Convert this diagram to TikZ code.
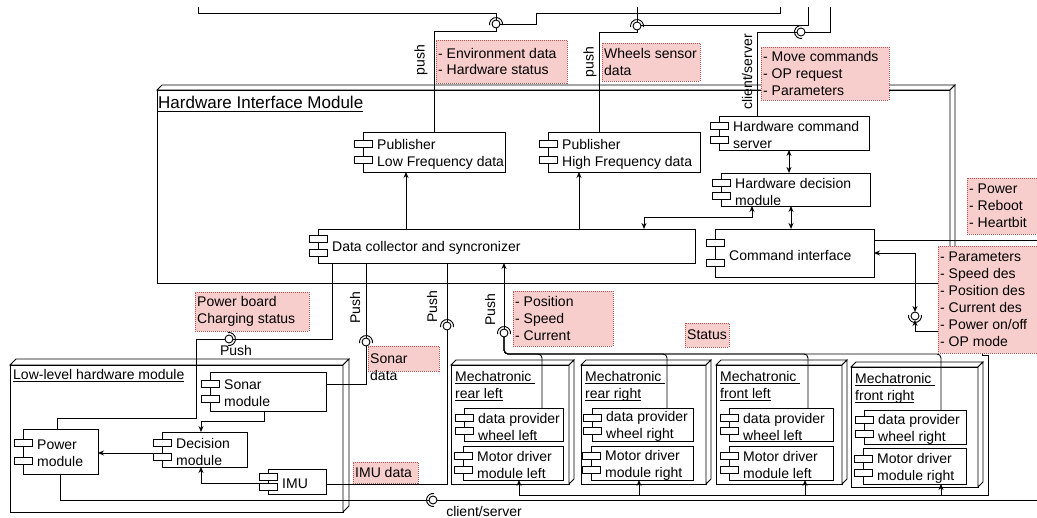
\documentclass[tikz,border=0pt]{standalone}
\usepackage{fontspec}
\setmainfont{Liberation Sans}
\usetikzlibrary{arrows.meta}
\definecolor{notefill}{HTML}{F8CECC}
\definecolor{noteline}{HTML}{B85450}
\tikzset{
  ln/.style={line width=0.9pt, draw=black},
  body/.style={draw, fill=white, line width=0.9pt, inner sep=0pt, outer sep=0pt},
  jet/.style={draw, fill=white, line width=0.9pt},
  lbl/.style={font=\fontsize{14}{17}\selectfont, inner sep=0pt, align=left},
  note/.style={draw=noteline, fill=notefill, dash pattern=on 1pt off 1pt, line width=0.6pt, inner sep=0pt, outer sep=0pt},
}
% underline drawn at a fixed distance below the baseline
\newcommand\uline[1]{\leavevmode\setbox0=\hbox{#1}\rlap{\copy0}\rule[-0.2em]{\wd0}{0.07em}}
% small connector tabs of a UML component
\newcommand\jetty[2]{\draw[jet] ({(#1)-9},{(#2)-3.5}) rectangle ({(#1)+9},{(#2)+3.5});}
% component: name, x1, y1, x2, y2, text
\newcommand\comp[6]{%
  \node[body, minimum width={(#4)-(#2)}, minimum height={(#5)-(#3)}] (#1) at ({((#2)+(#4))/2},{((#3)+(#5))/2}) {};
  \node[lbl, anchor=west] (#1-t) at ({(#2)+14},{((#3)+(#5))/2+2}) {#6};
  \jetty{#2}{(#3)+0.3*((#5)-(#3))}
  \jetty{#2}{(#3)+0.7*((#5)-(#3))}
}
% note: name, x1, y1, x2, y2, text
\newcommand\note[6]{%
  \node[note, minimum width={(#4)-(#2)}, minimum height={(#5)-(#3)}] (#1) at ({((#2)+(#4))/2},{((#3)+(#5))/2}) {};
  \node[lbl, anchor=west] (#1-t) at ({(#2)+2},{((#3)+(#5))/2}) {#6};
}
% 3D deployment node: x1, y1, x2, y2 of the front face, depth
\newcommand\boxnode[5]{%
  \draw[ln, fill=white] (#1,#2) rectangle (#3,#4);
  \draw[ln, fill=white] (#1,#2) -- ({(#1)+(#5)},{(#2)-(#5)}) -- ({(#3)+(#5)},{(#2)-(#5)}) -- (#3,#2) -- cycle;
  \draw[ln, fill=white] (#3,#2) -- ({(#3)+(#5)},{(#2)-(#5)}) -- ({(#3)+(#5)},{(#4)-(#5)}) -- (#3,#4) -- cycle;
}
% ball and socket: name, x, y, direction the socket faces
\newcommand\sock[4]{%
  \draw[ln] ([shift={(#4-100:6.5pt)}]#2,#3) arc[start angle=#4-100, end angle=#4+100, radius=6.5pt];
  \draw[ln, fill=white] (#2,#3) circle[radius=4pt];
}
\begin{document}
\begin{tikzpicture}[x=1pt, y=-1pt, >={Stealth[length=6pt,width=5pt]}]
\useasboundingbox (0,0) rectangle (1037,518);
\clip (0,0) rectangle (1037,518);

% ---------- containers ----------
\boxnode{157}{90}{950}{283}{5}
\boxnode{10}{365}{343}{512}{6}
\boxnode{451}{365}{569}{484}{5}
\boxnode{581}{365}{706}{484}{5}
\boxnode{716}{365}{842}{484}{5}
\boxnode{851}{367}{978}{487}{5}

\node[lbl, anchor=base west, font=\fontsize{17}{20}\selectfont] (himT) at (158,109) {\uline{Hardware Interface Module}};
\node[lbl, anchor=base west] (llT) at (13,379.5) {\uline{Low-level hardware module}};
\node[lbl, anchor=north west] (m1T) at (455,371) {\uline{Mechatronic\ }\\\uline{rear left}};
\node[lbl, anchor=north west] (m2T) at (585,371) {\uline{Mechatronic\ }\\\uline{rear right}};
\node[lbl, anchor=north west] (m3T) at (720,371) {\uline{Mechatronic\ }\\\uline{front left}};
\node[lbl, anchor=north west] (m4T) at (855,373) {\uline{Mechatronic\ }\\\uline{front right}};

% ---------- components ----------
\comp{pubLow}{363}{132}{505}{172}{Publisher\\Low Frequency data}
\comp{pubHigh}{548}{132}{700}{172}{Publisher\\High Frequency data}
\comp{hwCmd}{719}{116}{869}{150}{Hardware command\\server}
\comp{hwDec}{721}{173}{870}{206}{Hardware decision\\module}
\comp{cmdIf}{715}{229}{874}{277}{Command interface}
\comp{dataCol}{318}{229}{695}{263}{Data collector and syncronizer}

\comp{sonar}{210}{372}{326}{411}{Sonar\\module}
\comp{dec}{162}{432}{247}{467}{Decision\\module}
\comp{power}{23}{429}{98}{474}{Power\\module}
\comp{imu}{268}{469}{326}{494}{IMU}

\comp{dp1}{464}{408}{563}{441}{data provider\\wheel left}
\comp{md1}{463}{446}{563}{480}{Motor driver\\module left}
\comp{dp2}{592}{408}{693}{441}{data provider\\wheel right}
\comp{md2}{591}{446}{693}{480}{Motor driver\\module right}
\comp{dp3}{729}{408}{833}{441}{data provider\\wheel left}
\comp{md3}{729}{446}{833}{480}{Motor driver\\module left}
\comp{dp4}{864}{410}{966}{444}{data provider\\wheel right}
\comp{md4}{863}{448}{966}{484}{Motor driver\\module right}

% ---------- socket positions ----------
\coordinate (S1) at (496,24);
\coordinate (S2) at (637,26);
\coordinate (S3) at (801,32);
\coordinate (S4) at (229,339);
\coordinate (S5) at (366,342);
\coordinate (S6) at (447,326);
\coordinate (S7) at (504,333);
\coordinate (S8) at (915,316);
\coordinate (S9) at (433,500);

% ---------- connectors at the top ----------
\draw[ln] (198,7) -- (198,13) -| (S1);
\draw[ln] (S1) -- (536,24) -- (536,13) -- (780,13) -- (780,7);
\draw[ln] (S1) -- (496,31) -- (434,31) -- (434,0 |- pubLow.north);
\draw[ln] (637,7) -- (S2);
\draw[ln] (S2) -- (637,25) -- (808,25) -- (808,7);
\draw[ln] (S2) -- (637,32) -- (599,32) -- (599,0 |- pubHigh.north);
\draw[ln] (757,0 |- hwCmd.north) |- (S3);
\draw[ln] (S3) -- (830,32) -- (830,7);

% ---------- inside the hardware interface module ----------
\draw[ln, ->] (406,0 |- dataCol.north) -- (406,0 |- pubLow.south);
\draw[ln, ->] (579,0 |- dataCol.north) -- (579,0 |- pubHigh.south);
\draw[ln, <->] (789,0 |- hwCmd.south) -- (789,0 |- hwDec.north);
\draw[ln, <->] (791,0 |- hwDec.south) -- (791,0 |- cmdIf.north);
\draw[ln, <->] (752,0 |- hwDec.south) |- (644,217) -- (644,0 |- dataCol.north);
\draw[ln] (cmdIf.east |- 0,240) -- (1040,240);
\draw[ln, <->] (cmdIf.east) -| ([yshift=4pt]S8);

% ---------- commands down to the motor drivers ----------
\draw[ln, ->] (915,331) -- ([yshift=-4pt]S8);
\foreach \m/\x in {md1/519, md2/639, md3/805, md4/941}
  \draw[ln, ->] (915,331) -- (982,331) -- (982,355) -- (988,355) -- (988,495) -| (\x,0 |- \m.south);

% ---------- data pushed up to the collector ----------
\draw[ln] (332,0 |- dataCol.south) |- (S4);
\draw[ln] (S4) -- (196,339) -- (196,418) -- (57,418) -- (57,0 |- power.north);
\draw[ln] (366,0 |- dataCol.south) -- (S5);
\draw[ln] (S5) |- (sonar.east |- 0,384);
\draw[ln] (447,0 |- dataCol.south) -- (S6);
\draw[ln] (S6) |- (imu.east |- 0,484);
\draw[ln, ->] (S7) -- (504,0 |- dataCol.south);
\foreach \d/\x in {dp1/542, dp2/667, dp3/808, dp4/941}
  \draw[ln, rounded corners=4pt] (S7) |- (\x,354) -- (\x,0 |- \d.north);

% ---------- inside the low-level hardware module ----------
\draw[ln, ->] (264,0 |- sonar.south) |- (201,421) -- (201,0 |- dec.north);
\draw[ln, ->] (153,453) -- (power.east |- 0,453);
\draw[ln, ->] (259,483) -| (201,0 |- dec.south);
\draw[ln] (power.south) |- (S9);
\draw[ln] (S9) -- (1040,500);

% ---------- balls and sockets ----------
\sock{s1}{496}{24}{90}
\sock{s2}{637}{26}{90}
\sock{s3}{801}{32}{180}
\sock{s4}{229}{339}{0}
\sock{s5}{366}{342}{90}
\sock{s6}{447}{326}{90}
\sock{s7}{504}{333}{90}
\sock{s8}{915}{316}{270}
\sock{s9}{433}{500}{180}

% ---------- notes ----------
\note{nEnv}{436}{40}{567}{83}{- Environment data\\- Hardware status}
\note{nWheel}{602}{43}{700}{81}{Wheels sensor\\data}
\note{nMove}{761}{47}{889}{100}{- Move commands\\- OP request\\- Parameters}
\note{nPower}{967}{178}{1045}{234}{- Power\\- Reboot\\- Heartbit}
\note{nParam}{938}{246}{1045}{353}{- Parameters\\- Speed des\\- Position des\\- Current des\\- Power on/off\\- OP mode}
\note{nCharge}{195}{292}{309}{331}{Power board\\Charging status}
\note{nPos}{513}{291}{613}{346}{- Position\\- Speed\\- Current}
\note{nStatus}{685}{323}{729}{347}{Status}
\note{nImu}{353}{462}{418}{483}{IMU data}
\node[note, minimum width=71, minimum height=25] (nSonar) at (403.5,358.5) {};
\node[lbl, anchor=west] (nSonar-t) at (370,367) {Sonar\\data};

% ---------- connector labels ----------
\node[lbl, rotate=90] (l1) at (421,60) {push};
\node[lbl, rotate=90] (l2) at (590,62) {push};
\node[lbl, rotate=90] (l3) at (747,72) {client/server};
\node[lbl, rotate=90] (l4) at (355,308) {Push};
\node[lbl, rotate=90] (l5) at (432,307) {Push};
\node[lbl, rotate=90] (l6) at (490,310) {Push};
\node[lbl] (l7) at (236,350) {Push};
\node[lbl] (l8) at (484,511) {client/server};
\end{tikzpicture}
\end{document}
